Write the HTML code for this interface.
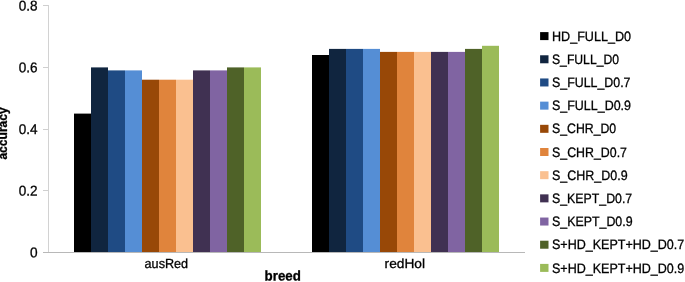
<!DOCTYPE html>
<html><head><meta charset="utf-8"><title>accuracy by breed</title>
<style>
html,body{margin:0;padding:0;background:#fff;}
svg{display:block;}
text{font-family:"Liberation Sans",sans-serif;fill:#000;stroke:#000;stroke-width:0.3px;}
</style></head><body>
<svg width="685" height="282" viewBox="0 0 685 282">
<rect width="685" height="282" fill="#fff"/>
<rect x="74" y="113.6" width="17" height="138.7" fill="#000000"/>
<rect x="91" y="67.4" width="17" height="184.9" fill="#10253f"/>
<rect x="108" y="70.4" width="17" height="181.9" fill="#1f4b84"/>
<rect x="125" y="70.4" width="17" height="181.9" fill="#558ed5"/>
<rect x="142" y="79.7" width="17" height="172.6" fill="#984807"/>
<rect x="159" y="79.7" width="17" height="172.6" fill="#e0843c"/>
<rect x="176" y="79.7" width="17" height="172.6" fill="#fac090"/>
<rect x="193" y="70.4" width="17" height="181.9" fill="#403152"/>
<rect x="210" y="70.4" width="17" height="181.9" fill="#8064a2"/>
<rect x="227" y="67.4" width="17" height="184.9" fill="#4f6228"/>
<rect x="244" y="67.4" width="17" height="184.9" fill="#9bbb59"/>
<rect x="312" y="55.0" width="17" height="197.3" fill="#000000"/>
<rect x="329" y="48.9" width="17" height="203.4" fill="#10253f"/>
<rect x="346" y="48.9" width="17" height="203.4" fill="#1f4b84"/>
<rect x="363" y="48.9" width="17" height="203.4" fill="#558ed5"/>
<rect x="380" y="51.9" width="17" height="200.4" fill="#984807"/>
<rect x="397" y="51.9" width="17" height="200.4" fill="#e0843c"/>
<rect x="414" y="51.9" width="17" height="200.4" fill="#fac090"/>
<rect x="431" y="51.9" width="17" height="200.4" fill="#403152"/>
<rect x="448" y="51.9" width="17" height="200.4" fill="#8064a2"/>
<rect x="465" y="48.9" width="17" height="203.4" fill="#4f6228"/>
<rect x="482" y="45.8" width="17" height="206.5" fill="#9bbb59"/>
<g stroke="#c8c8c8" stroke-width="1" fill="none" shape-rendering="crispEdges">
<line x1="48.5" y1="5" x2="48.5" y2="253" stroke="#d2d2d2"/>
<line x1="43" y1="252.5" x2="525" y2="252.5" stroke="#b8b8b8"/>
<line x1="43" y1="190.5" x2="48" y2="190.5" stroke="#cfcfcf"/>
<line x1="43" y1="129.5" x2="48" y2="129.5" stroke="#cfcfcf"/>
<line x1="43" y1="67.5" x2="48" y2="67.5" stroke="#cfcfcf"/>
<line x1="43" y1="5.5" x2="48" y2="5.5" stroke="#cfcfcf"/>
</g>
<text x="29.90" y="257.20" transform="rotate(0.03 29.90 257.20)" font-size="14.1" textLength="7.6" lengthAdjust="spacingAndGlyphs">0</text>
<text x="18.70" y="195.55" transform="rotate(0.03 18.70 195.55)" font-size="14.1" textLength="18.8" lengthAdjust="spacingAndGlyphs">0.2</text>
<text x="18.70" y="133.90" transform="rotate(0.03 18.70 133.90)" font-size="14.1" textLength="18.8" lengthAdjust="spacingAndGlyphs">0.4</text>
<text x="18.70" y="72.25" transform="rotate(0.03 18.70 72.25)" font-size="14.1" textLength="18.8" lengthAdjust="spacingAndGlyphs">0.6</text>
<text x="18.70" y="10.60" transform="rotate(0.03 18.70 10.60)" font-size="14.1" textLength="18.8" lengthAdjust="spacingAndGlyphs">0.8</text>
<text x="144.60" y="268.00" transform="rotate(0.03 144.60 268.00)" font-size="13.2" textLength="43.5" lengthAdjust="spacingAndGlyphs">ausRed</text>
<text x="384.60" y="268.00" transform="rotate(0.03 384.60 268.00)" font-size="13.2" textLength="40.4" lengthAdjust="spacingAndGlyphs">redHol</text>
<text x="264.60" y="280.60" transform="rotate(0.03 264.60 280.60)" font-size="14.1" font-weight="bold" stroke="none" textLength="36.3" lengthAdjust="spacingAndGlyphs">breed</text>
<text transform="translate(7.2,159.6) rotate(-90)" font-size="12.4" font-weight="bold" stroke="none" textLength="52.3" lengthAdjust="spacingAndGlyphs">accuracy</text>
<rect x="540.1" y="32.10" width="8.4" height="8.0" fill="#000000"/>
<text x="552.00" y="40.70" transform="rotate(0.03 552.00 40.70)" font-size="13.6" textLength="79.0" lengthAdjust="spacingAndGlyphs">HD_FULL_D0</text>
<rect x="540.1" y="55.28" width="8.4" height="8.0" fill="#10253f"/>
<text x="552.00" y="63.88" transform="rotate(0.03 552.00 63.88)" font-size="13.6" textLength="67.0" lengthAdjust="spacingAndGlyphs">S_FULL_D0</text>
<rect x="540.1" y="78.46" width="8.4" height="8.0" fill="#1f4b84"/>
<text x="552.00" y="87.06" transform="rotate(0.03 552.00 87.06)" font-size="13.6" textLength="78.5" lengthAdjust="spacingAndGlyphs">S_FULL_D0.7</text>
<rect x="540.1" y="101.64" width="8.4" height="8.0" fill="#558ed5"/>
<text x="552.00" y="110.24" transform="rotate(0.03 552.00 110.24)" font-size="13.6" textLength="79.0" lengthAdjust="spacingAndGlyphs">S_FULL_D0.9</text>
<rect x="540.1" y="124.82" width="8.4" height="8.0" fill="#984807"/>
<text x="552.00" y="133.42" transform="rotate(0.03 552.00 133.42)" font-size="13.6" textLength="64.2" lengthAdjust="spacingAndGlyphs">S_CHR_D0</text>
<rect x="540.1" y="148.00" width="8.4" height="8.0" fill="#e0843c"/>
<text x="552.00" y="156.60" transform="rotate(0.03 552.00 156.60)" font-size="13.6" textLength="75.0" lengthAdjust="spacingAndGlyphs">S_CHR_D0.7</text>
<rect x="540.1" y="171.18" width="8.4" height="8.0" fill="#fac090"/>
<text x="552.00" y="179.78" transform="rotate(0.03 552.00 179.78)" font-size="13.6" textLength="75.6" lengthAdjust="spacingAndGlyphs">S_CHR_D0.9</text>
<rect x="540.1" y="194.36" width="8.4" height="8.0" fill="#403152"/>
<text x="552.00" y="202.96" transform="rotate(0.03 552.00 202.96)" font-size="13.6" textLength="80.2" lengthAdjust="spacingAndGlyphs">S_KEPT_D0.7</text>
<rect x="540.1" y="217.54" width="8.4" height="8.0" fill="#8064a2"/>
<text x="552.00" y="226.14" transform="rotate(0.03 552.00 226.14)" font-size="13.6" textLength="80.6" lengthAdjust="spacingAndGlyphs">S_KEPT_D0.9</text>
<rect x="540.1" y="240.72" width="8.4" height="8.0" fill="#4f6228"/>
<text x="552.00" y="249.32" transform="rotate(0.03 552.00 249.32)" font-size="13.6" textLength="132.3" lengthAdjust="spacingAndGlyphs">S+HD_KEPT+HD_D0.7</text>
<rect x="540.1" y="263.90" width="8.4" height="8.0" fill="#9bbb59"/>
<text x="552.00" y="272.50" transform="rotate(0.03 552.00 272.50)" font-size="13.6" textLength="132.3" lengthAdjust="spacingAndGlyphs">S+HD_KEPT+HD_D0.9</text>
</svg></body></html>
